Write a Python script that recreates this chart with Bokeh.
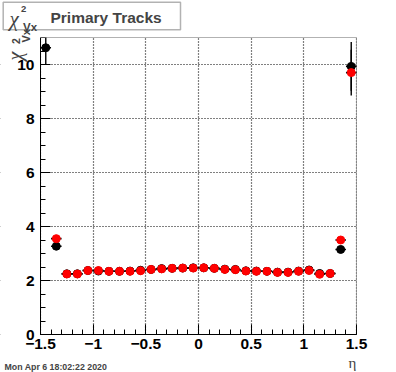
import math
from bokeh.plotting import figure
from bokeh.models import FixedTicker, Label, BoxAnnotation, Range1d
from bokeh.embed import file_html
from bokeh.resources import INLINE

# ---- data ----
eta = [-1.45, -1.35, -1.25, -1.15, -1.05, -0.95, -0.85, -0.75, -0.65, -0.55,
       -0.45, -0.35, -0.25, -0.15, -0.05, 0.05, 0.15, 0.25, 0.35, 0.45,
       0.55, 0.65, 0.75, 0.85, 0.95, 1.05, 1.15, 1.25, 1.35, 1.45]
black_vals = [10.62, 3.27, 2.25, 2.25, 2.37, 2.35, 2.34, 2.34, 2.35, 2.38,
              2.41, 2.44, 2.45, 2.46, 2.47, 2.47, 2.45, 2.42, 2.41, 2.36,
              2.35, 2.34, 2.31, 2.31, 2.35, 2.39, 2.26, 2.26, 3.15, 9.93]
black_errs = [0.6, 0.06, 0.03, 0.03, 0.03, 0.03, 0.03, 0.03, 0.03, 0.03,
              0.03, 0.03, 0.03, 0.03, 0.03, 0.03, 0.03, 0.03, 0.03, 0.03,
              0.03, 0.03, 0.03, 0.03, 0.03, 0.03, 0.03, 0.03, 0.06, 0.9]
red_vals = [float("nan"), 3.55, 2.24, 2.24, 2.37, 2.37, 2.34, 2.34, 2.34, 2.36,
            2.41, 2.43, 2.45, 2.46, 2.46, 2.47, 2.45, 2.41, 2.40, 2.35,
            2.34, 2.34, 2.30, 2.30, 2.34, 2.37, 2.23, 2.26, 3.50, 9.70]
red_errs = [float("nan"), 0.12, 0.03, 0.03, 0.03, 0.03, 0.03, 0.03, 0.03, 0.03,
            0.03, 0.03, 0.03, 0.03, 0.03, 0.03, 0.03, 0.03, 0.03, 0.03,
            0.03, 0.03, 0.03, 0.03, 0.03, 0.03, 0.03, 0.03, 0.10, 0.85]
bin_half = 0.05
x_ticks = [-1.5, -1.0, -0.5, 0.0, 0.5, 1.0, 1.5]
x_tick_labels = ["\u22121.5", "\u22121", "\u22120.5", "0", "0.5", "1", "1.5"]
y_ticks = [0, 2, 4, 6, 8, 10]
title_text = "Primary Tracks"
date_text = "Mon Apr  6 18:02:22 2020"
x_title = "\u03b7"

# ---- layout (canvas pixels) ----
XMIN, XMAX, YMIN, YMAX = -1.5, 1.5, 0.0, 11.0
W, H = 396, 372
FL, FR, FT, FB = 40, 356, 37, 334  # data box inside the canvas
SX = (XMAX - XMIN) / (FR - FL)
SY = (YMAX - YMIN) / (FB - FT)
XS, XE = XMIN - FL * SX, XMAX + (W - FR) * SX
YS, YE = YMIN - (H - FB) * SY, YMAX + FT * SY


def dx(fx):
    return XS + fx * SX


def dy(fy):
    return YE - fy * SY


p = figure(width=W, height=H, output_backend="svg", toolbar_location=None,
           x_range=Range1d(XS, XE), y_range=Range1d(YS, YE),
           min_border=0, min_border_left=0, min_border_right=0,
           min_border_top=0, min_border_bottom=0)
p.background_fill_color = "white"
p.border_fill_color = "white"
p.outline_line_color = None

FONT = "Liberation Sans"

# axes placed on the data box edges
xminor = [round(-1.5 + 0.1 * i, 2) for i in range(31)]
yminor = [0.5 * i for i in range(23)]
p.xaxis.ticker = FixedTicker(ticks=x_ticks, minor_ticks=xminor)
p.yaxis.ticker = FixedTicker(ticks=y_ticks, minor_ticks=yminor)
p.xaxis.major_label_overrides = {t: l for t, l in zip(x_ticks, x_tick_labels)}
p.xaxis.fixed_location = YMIN
p.yaxis.fixed_location = XMIN
p.xaxis.bounds = (XMIN, XMAX)
p.yaxis.bounds = (YMIN, YMAX)
for ax in (p.xaxis, p.yaxis):
    ax.axis_line_color = "black"
    ax.major_tick_in = 10
    ax.major_tick_out = 0
    ax.minor_tick_in = 5
    ax.minor_tick_out = 0
    ax.major_tick_line_color = "black"
    ax.minor_tick_line_color = "black"
    ax.major_label_text_font = FONT
    ax.major_label_text_font_style = "bold"
    ax.major_label_text_font_size = "15.5px"
    ax.major_label_text_color = "black"
p.xaxis.major_label_standoff = 4
p.yaxis.major_label_standoff = 6

p.xgrid.ticker = FixedTicker(ticks=x_ticks)
p.ygrid.ticker = FixedTicker(ticks=y_ticks)
for g in (p.xgrid, p.ygrid):
    g.grid_line_color = "black"
    g.grid_line_dash = "1 2"
    g.grid_line_width = 1.2

# white covers outside the data box (hide grid lines that run past it)
for kw in (dict(right=XMIN), dict(left=XMAX), dict(top=YMIN)):
    p.add_layout(BoxAnnotation(fill_color="white", fill_alpha=1.0, line_color=None,
                               level="underlay", **kw))


# error bars + markers
def draw(vals, errs, color):
    xs = [x for x, v in zip(eta, vals) if not math.isnan(v)]
    ys = [v for v in vals if not math.isnan(v)]
    es = [e for v, e in zip(vals, errs) if not math.isnan(v)]
    p.segment(x0=[x - bin_half for x in xs], x1=[x + bin_half for x in xs],
              y0=ys, y1=ys, line_color="black", line_width=1.6)
    p.segment(x0=xs, x1=xs, y0=[y - e for y, e in zip(ys, es)],
              y1=[y + e for y, e in zip(ys, es)], line_color="black", line_width=1.4)
    p.scatter(xs, ys, marker="circle", size=8, fill_color=color, line_color=color)


draw(black_vals, black_errs, "black")
draw(red_vals, red_errs, "#ff0000")

# top cover (clips error bars above the range) and frame box
p.add_layout(BoxAnnotation(bottom=YMAX, fill_color="white", fill_alpha=1.0,
                           line_color=None, level="guide"))
p.add_layout(BoxAnnotation(left=XMIN, right=XMAX, bottom=YMIN, top=YMAX,
                           fill_alpha=0.0, line_color="black", line_width=1,
                           level="annotation"))

# title box
p.add_layout(BoxAnnotation(left=dx(2.7), right=dx(180), top=dy(1.7), bottom=dy(29.3),
                           fill_color="white", fill_alpha=1.0,
                           line_color="black", line_width=1.5, level="annotation"))
p.add_layout(Label(x=dx(9), y=dy(18), text="\u03c7", text_font="Liberation Serif",
                   text_font_style="italic", text_font_size="21px",
                   text_baseline="alphabetic", text_align="left", level="overlay"))
p.add_layout(Label(x=dx(20.5), y=dy(8.6), text="2", text_font=FONT, text_font_style="bold",
                   text_font_size="9.5px", text_baseline="alphabetic", level="overlay"))
p.add_layout(Label(x=dx(22.5), y=dy(26.5), text="Vx", text_font=FONT, text_font_style="bold",
                   text_font_size="11.5px", text_baseline="alphabetic", level="overlay"))
p.add_layout(Label(x=dx(50), y=dy(17.3), text=title_text, text_font=FONT,
                   text_font_style="bold", text_font_size="15.5px",
                   text_baseline="alphabetic", level="overlay"))

# y axis title (rotated, reads upward)
ang = math.pi / 2
p.add_layout(Label(x=dx(14.5), y=dy(60), text="\u03c7", text_font="Liberation Serif",
                   text_font_style="italic", text_font_size="20px", angle=ang,
                   text_baseline="alphabetic", text_align="left", level="overlay"))
p.add_layout(Label(x=dx(15), y=dy(43.5), text="2", text_font=FONT, text_font_style="bold",
                   text_font_size="10.5px", angle=ang, text_baseline="alphabetic",
                   level="overlay"))
p.add_layout(Label(x=dx(25), y=dy(42), text="Vx", text_font=FONT, text_font_style="bold",
                   text_font_size="11px", angle=ang, text_baseline="alphabetic",
                   level="overlay"))

# x axis title
p.add_layout(Label(x=dx(348), y=dy(362), text=x_title, text_font="Liberation Serif",
                   text_font_size="15px", text_baseline="alphabetic", level="overlay"))

# date stamp
p.add_layout(Label(x=dx(4), y=dy(366.5), text=date_text, text_font=FONT,
                   text_font_style="bold", text_font_size="8.8px",
                   text_baseline="alphabetic", level="overlay"))

open("out.html", "w").write(file_html(p, INLINE))
